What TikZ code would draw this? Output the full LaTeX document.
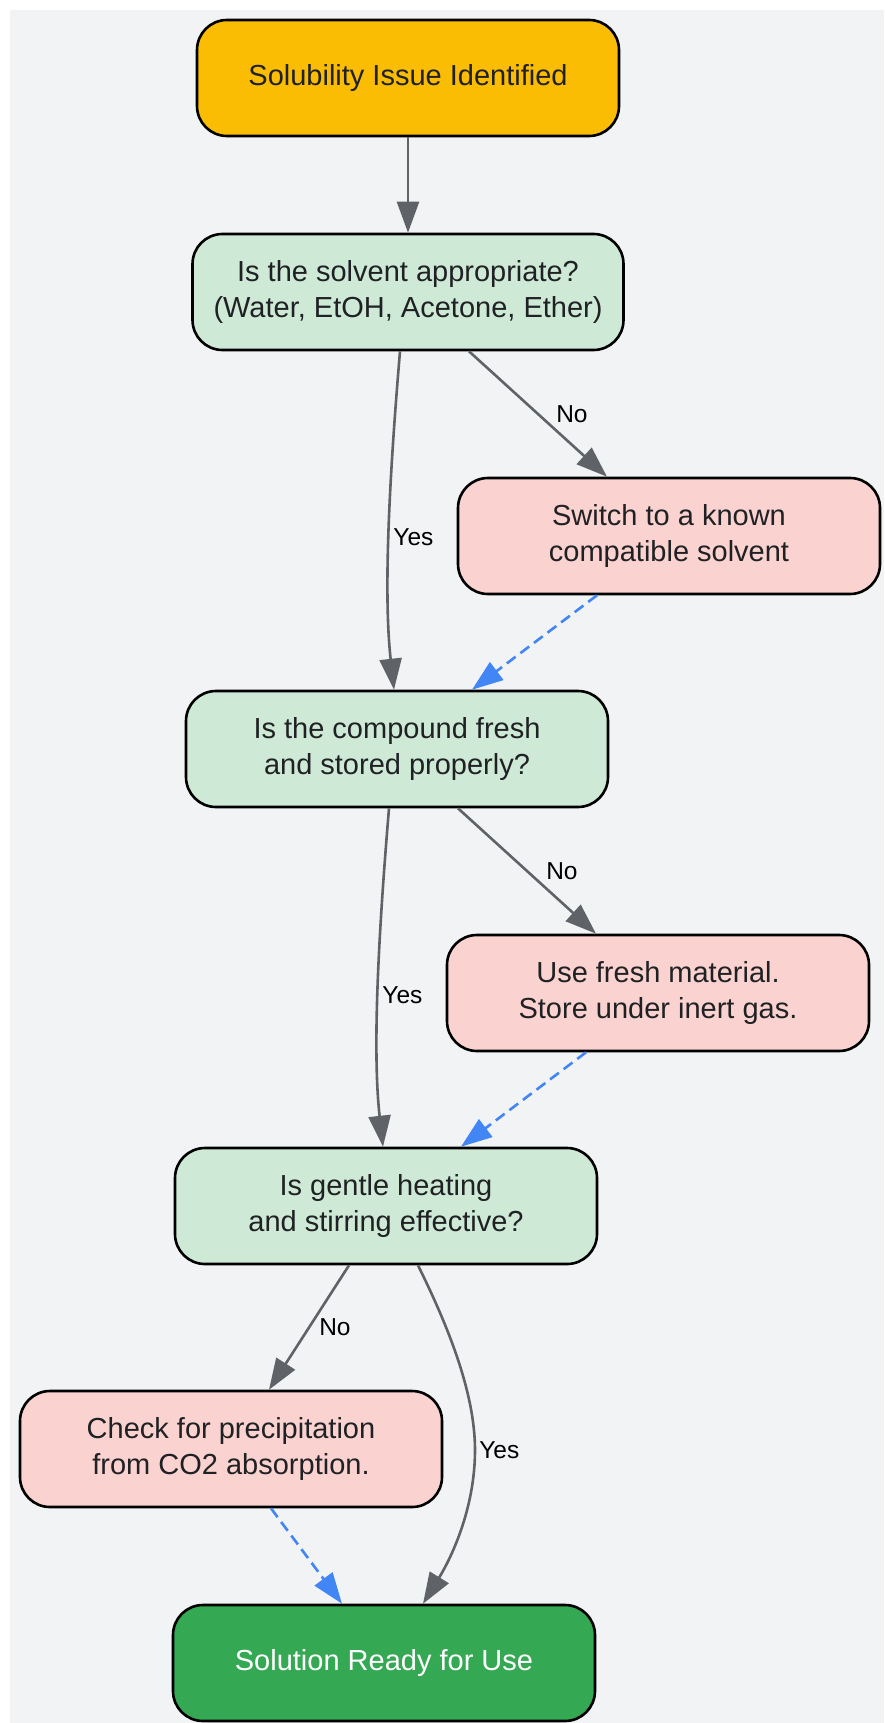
\documentclass[tikz,border=0pt]{standalone}
\usepackage{fontspec}
\setmainfont{Liberation Sans}
\usetikzlibrary{arrows.meta,calc}
\definecolor{bgc}{HTML}{F1F3F4}
\definecolor{startc}{HTML}{FBBC04}
\definecolor{qc}{HTML}{CEEAD6}
\definecolor{actc}{HTML}{FAD2CF}
\definecolor{endc}{HTML}{34A853}
\definecolor{txtc}{HTML}{202124}
\definecolor{edgec}{HTML}{5F6368}
\definecolor{dashc}{HTML}{4285F4}
\begin{document}
\begin{tikzpicture}[x=1pt,y=-1pt,
  box/.style={draw=black, line width=2.6pt, rounded corners=30pt,
    minimum width=422pt, minimum height=116pt, align=center,
    text=txtc, font=\fontsize{29pt}{36pt}\selectfont, inner sep=0pt},
  startbox/.style={box, fill=startc},
  qbox/.style={box, fill=qc},
  actbox/.style={box, fill=actc},
  endbox/.style={box, fill=endc, text=white},
  edge/.style={draw=edgec, line width=2.6pt, -{Triangle[length=31pt 0,width=22pt 0]}},
  dedge/.style={draw=dashc, line width=2.6pt, dash pattern=on 11pt off 6pt, -{Triangle[length=31pt 0,width=22pt 0]}},
  lbl/.style={font=\fontsize{24.5pt}{28pt}\selectfont, text=black, inner sep=0pt}
]
\useasboundingbox (0,0) rectangle (884,1723);
\fill[bgc] (10,10) rectangle (884,1723);

\node[startbox] (start) at (408,78) {Solubility Issue Identified};
\node[qbox, minimum width=431pt] (q1) at (408,292) {Is the solvent appropriate?\\(Water, EtOH, Acetone, Ether)};
\node[actbox] (sw) at (669,536) {Switch to a known\\compatible solvent};
\node[qbox] (q2) at (397,749) {Is the compound fresh\\and stored properly?};
\node[actbox] (uf) at (658,993) {Use fresh material.\\Store under inert gas.};
\node[qbox] (q3) at (386,1206) {Is gentle heating\\and stirring effective?};
\node[actbox] (ck) at (231,1449) {Check for precipitation\\from CO2 absorption.};
\node[endbox] (end) at (384,1663) {Solution Ready for Use};

\draw[edge] (start.south) -- (q1.north);
\draw[edge] ([xshift=61pt]q1.south) -- node[lbl, pos=0.5, anchor=west, xshift=17pt]{No} ([xshift=-62pt]sw.north);
\draw[edge] ([xshift=-8pt]q1.south) .. controls (390,470) and (383,590) .. node[lbl, pos=0.5, anchor=west, xshift=3pt, yshift=-10pt]{Yes} ([xshift=-3pt]q2.north);
\draw[dedge] ([xshift=-72pt]sw.south) -- ([xshift=75pt]q2.north);
\draw[edge] ([xshift=61pt]q2.south) -- node[lbl, pos=0.5, anchor=west, xshift=18pt]{No} ([xshift=-62pt]uf.north);
\draw[edge] ([xshift=-8pt]q2.south) .. controls (379,928) and (372,1048) .. node[lbl, pos=0.5, anchor=west, xshift=3pt, yshift=-10pt]{Yes} ([xshift=-3pt]q3.north);
\draw[dedge] ([xshift=-72pt]uf.south) -- ([xshift=75pt]q3.north);
\draw[edge] ([xshift=-37pt]q3.south) -- node[lbl, pos=0.5, anchor=west, xshift=9pt]{No} ([xshift=38pt]ck.north);
\draw[edge] ([xshift=32pt]q3.south) .. controls (445,1320) and (475,1390) .. (475,1450) node[lbl, anchor=west, xshift=3pt]{Yes} .. controls (475,1510) and (450,1560) .. ([xshift=39pt]end.north);
\draw[dedge] ([xshift=40pt]ck.south) -- ([xshift=-42pt]end.north);
\end{tikzpicture}
\end{document}
